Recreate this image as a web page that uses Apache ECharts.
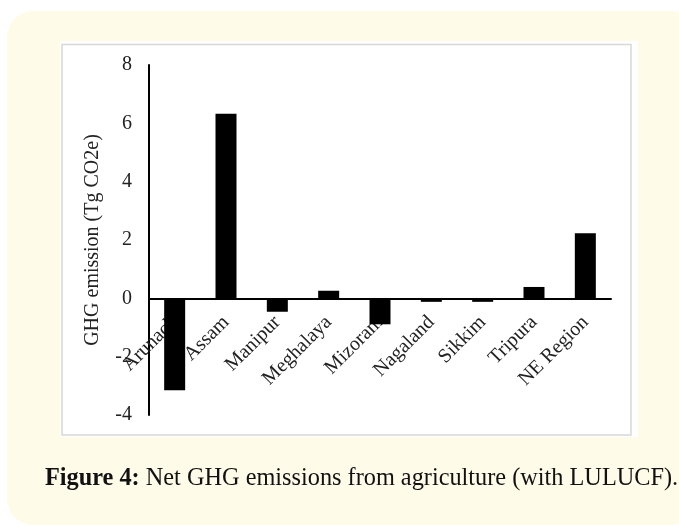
<!DOCTYPE html>
<html>
<head>
<meta charset="utf-8">
<script src="https://cdn.jsdelivr.net/npm/echarts@6/dist/echarts.min.js"></script>
<style>
html,body{margin:0;padding:0;background:#fff;}
#c{width:679px;height:527px;}
</style>
</head>
<body>
<div id="c"></div>
<script>
var categories = ['Arunach', 'Assam', 'Manipur', 'Meghalaya', 'Mizoram', 'Nagaland', 'Sikkim', 'Tripura', 'NE Region'];
var values = [-3.15, 6.33, -0.46, 0.26, -0.89, -0.12, -0.12, 0.39, 2.23];
var yTicks = { min: -4, max: 8, interval: 2 };
var yName = 'GHG emission (Tg CO2e)';
var captionBold = 'Figure 4:';
var captionText = ' Net GHG emissions from agriculture (with LULUCF).';

var chart = echarts.init(document.getElementById('c'));
var serif = '"Liberation Serif", "Times New Roman", serif';
var gridTop = 65, gridBottom = 112, chartH = 527;
var plotH = chartH - gridTop - gridBottom;
// distance of zero line above bottom of grid (layout only)
var zeroOffset = -plotH * (0 - yTicks.min) / (yTicks.max - yTicks.min);
chart.setOption({
  animation: false,
  backgroundColor: '#ffffff',
  graphic: [
    { type: 'rect', z: -10, shape: { x: 7, y: 11, width: 690, height: 514, r: 26 }, style: { fill: '#fffbe9' } },
    { type: 'rect', z: -9, shape: { x: 60, y: 41, width: 578, height: 396 }, style: { fill: '#ffffff' } },
    { type: 'rect', z: -8, shape: { x: 62, y: 44.5, width: 569, height: 390.5 }, style: { fill: '#ffffff', stroke: '#d8d8d8', lineWidth: 1.5 } }
  ],
  title: {
    left: 45, top: 467, padding: 0,
    text: '{b|' + captionBold + '}{r|' + captionText + '}',
    textStyle: {
      fontWeight: 'normal',
      rich: {
        b: { fontFamily: serif, fontWeight: 'bold', fontSize: 24.3, color: '#111' },
        r: { fontFamily: serif, fontWeight: 'normal', fontSize: 24.3, color: '#111' }
      }
    }
  },
  grid: { left: 149, right: 68, top: gridTop, bottom: gridBottom },
  xAxis: {
    type: 'category',
    data: categories,
    offset: zeroOffset,
    axisLine: { onZero: false, lineStyle: { color: '#000', width: 2 } },
    axisTick: { show: false },
    axisLabel: { rotate: 45, margin: 21, fontFamily: serif, fontSize: 20, color: '#222', interval: 0 }
  },
  yAxis: {
    type: 'value',
    min: yTicks.min, max: yTicks.max, interval: yTicks.interval,
    name: yName,
    nameLocation: 'middle',
    nameGap: 46,
    nameTextStyle: { fontFamily: serif, fontSize: 20, color: '#222' },
    axisLine: { show: true, lineStyle: { color: '#000', width: 2 } },
    axisTick: { show: false },
    splitLine: { show: false },
    axisLabel: { margin: 17, fontFamily: serif, fontSize: 20, color: '#222' }
  },
  series: [{
    type: 'bar',
    data: values,
    barWidth: 21,
    itemStyle: { color: '#000' }
  }]
});
</script>
</body>
</html>
